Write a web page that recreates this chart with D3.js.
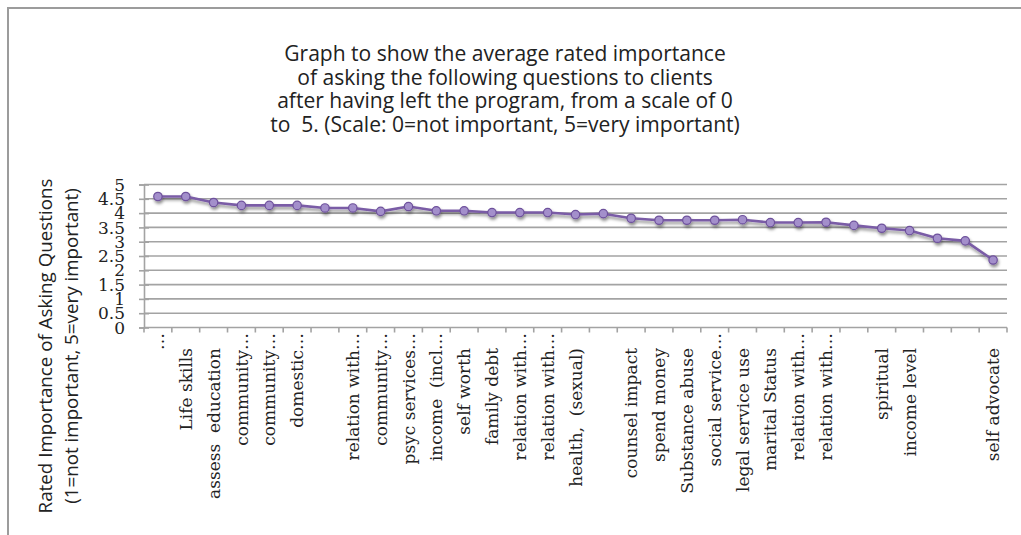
<!DOCTYPE html>
<html>
<head>
<meta charset="utf-8">
<script src="https://cdn.jsdelivr.net/npm/d3@7/dist/d3.min.js"></script>
<style>
  html, body { margin: 0; padding: 0; background: #fff; }
  svg { display: block; }
</style>
</head>
<body>
<svg id="chart" width="1021" height="535"></svg>
<script>
// ---------- data ----------
const titleLines = [
  "Graph to show the average rated importance",
  "of asking the following questions to clients",
  "after having left the program, from a scale of 0",
  "to  5. (Scale: 0=not important, 5=very important)"
];
const yTitleLines = [
  "Rated Importance of Asking Questions",
  "(1=not important, 5=very important)"
];
const categories = [
  "\u2026", "Life skills", "assess  education", "community\u2026", "community\u2026",
  "domestic\u2026", "", "relation with\u2026", "community\u2026", "psyc services\u2026",
  "income  (incl\u2026", "self worth", "family debt", "relation with\u2026", "relation with\u2026",
  "health,  (sexual)", "", "counsel impact", "spend money", "Substance abuse",
  "social service\u2026", "legal service use", "marital Status", "relation with\u2026", "relation with\u2026",
  "", "spiritual", "income level", "", "",
  "self advocate"
];
const values = [
  4.58, 4.58, 4.37, 4.27, 4.27,
  4.27, 4.18, 4.18, 4.06, 4.23,
  4.08, 4.08, 4.02, 4.02, 4.02,
  3.95, 3.98, 3.82, 3.75, 3.75,
  3.75, 3.77, 3.67, 3.67, 3.68,
  3.57, 3.47, 3.39, 3.12, 3.03,
  2.36
];
const yTickValues = [0, 0.5, 1, 1.5, 2, 2.5, 3, 3.5, 4, 4.5, 5];
const yTickLabels = ["0", "0.5", "1", "1.5", "2", "2.5", "3", "3.5", "4", "4.5", "5"];

// ---------- layout ----------
const W = 1021, H = 535;
const plot = { left: 144, right: 1007, top: 184.5, bottom: 327.5 };
const gridColor = "#a3a3a3";
const lineColor = "#7a5ca6";

const svg = d3.select("#chart");

const defs = svg.append("defs");
const f = defs.append("filter").attr("id", "shadow")
  .attr("x", "-20%").attr("y", "-50%").attr("width", "140%").attr("height", "200%");
f.append("feDropShadow").attr("dx", 1).attr("dy", 2.5).attr("stdDeviation", 1.6)
  .attr("flood-color", "#000").attr("flood-opacity", 0.45);

// frame
svg.append("path")
  .attr("d", `M8,${H} L8,8 L${W},8`)
  .attr("fill", "none").attr("stroke", "#9c9c9c").attr("stroke-width", 2);

const x = d3.scaleBand().domain(d3.range(categories.length)).range([plot.left, plot.right]);
const y = d3.scaleLinear().domain([0, 5]).range([plot.bottom, plot.top]);

// gridlines
svg.append("g").selectAll("line").data(yTickValues.filter(v => v > 0)).join("line")
  .attr("x1", plot.left).attr("x2", plot.right)
  .attr("y1", d => y(d)).attr("y2", d => y(d))
  .attr("stroke", gridColor).attr("stroke-width", 1.6);

// y axis (cross ticks)
const yAxis = d3.axisLeft(y).tickValues(yTickValues).tickFormat("").tickSize(5);
const gy = svg.append("g").attr("transform", `translate(${plot.left},0)`).call(yAxis);
gy.select(".domain").attr("stroke", gridColor).attr("stroke-width", 1.6);
gy.selectAll(".tick line").attr("x1", -5).attr("x2", 5).attr("stroke", gridColor).attr("stroke-width", 1.6);

// y tick labels
svg.append("g").selectAll("text").data(yTickValues).join("text")
  .attr("x", 125).attr("y", d => y(d)).attr("dy", "0.36em")
  .attr("text-anchor", "end")
  .attr("font-family", "DejaVu Serif").attr("font-size", 17).attr("fill", "#222")
  .text((d, i) => yTickLabels[i]);

// x axis
const gx = svg.append("g");
gx.append("line").attr("x1", plot.left).attr("x2", plot.right)
  .attr("y1", y(0)).attr("y2", y(0)).attr("stroke", gridColor).attr("stroke-width", 1.6);
const bounds = d3.range(categories.length + 1).map(i => i < categories.length ? x(i) : x.range()[1]);
gx.selectAll("line.t").data(bounds).join("line").attr("class", "t")
  .attr("x1", d => d).attr("x2", d => d)
  .attr("y1", y(0)).attr("y2", y(0) + 5)
  .attr("stroke", gridColor).attr("stroke-width", 1.6);

// x labels
svg.append("g").selectAll("text").data(categories).join("text")
  .attr("transform", (d, i) => {
    const cx = x(i) + x.bandwidth() / 2;
    const top = d.endsWith("\u2026") ? 333 : 348;
    return `translate(${cx},${top}) rotate(-90)`;
  })
  .attr("dy", "0.36em")
  .attr("text-anchor", "end")
  .style("white-space", "pre")
  .attr("font-family", "DejaVu Serif").attr("font-size", 17).attr("fill", "#222")
  .text(d => d);

// line + markers
const lineGen = d3.line().x((d, i) => x(i) + x.bandwidth() / 2).y(d => y(d));
const series = svg.append("g").attr("filter", "url(#shadow)");
series.append("path").datum(values)
  .attr("d", lineGen).attr("fill", "none")
  .attr("stroke", lineColor).attr("stroke-width", 2.6).attr("stroke-linejoin", "round");
series.selectAll("circle").data(values).join("circle")
  .attr("cx", (d, i) => x(i) + x.bandwidth() / 2).attr("cy", d => y(d))
  .attr("r", 4.2).attr("fill", "#a38fcb").attr("stroke", "#6e519c").attr("stroke-width", 1.2);

// title
function fitSize(sel, target, base) {
  let w = 0;
  sel.each(function() { w = Math.max(w, this.getComputedTextLength()); });
  const s = base * target / w;
  sel.attr("font-size", s);
  return s;
}
const title = svg.append("g").selectAll("text").data(titleLines).join("text")
  .attr("x", 505).attr("y", (d, i) => 61 + i * 23.5)
  .attr("text-anchor", "middle")
  .style("white-space", "pre")
  .attr("font-family", "Open Sans").attr("font-size", 20).attr("fill", "#222")
  .text(d => d);
fitSize(title, 470, 20);

// y title
const yt = svg.append("g").selectAll("text").data(yTitleLines).join("text")
  .attr("transform", (d, i) => `translate(${45 + i * 26},346) rotate(-90)`)
  .attr("dy", "0.36em")
  .attr("text-anchor", "middle")
  .attr("font-family", "Open Sans").attr("font-size", 18).attr("fill", "#222")
  .text(d => d);
fitSize(yt, 335, 18);
</script>
</body>
</html>
